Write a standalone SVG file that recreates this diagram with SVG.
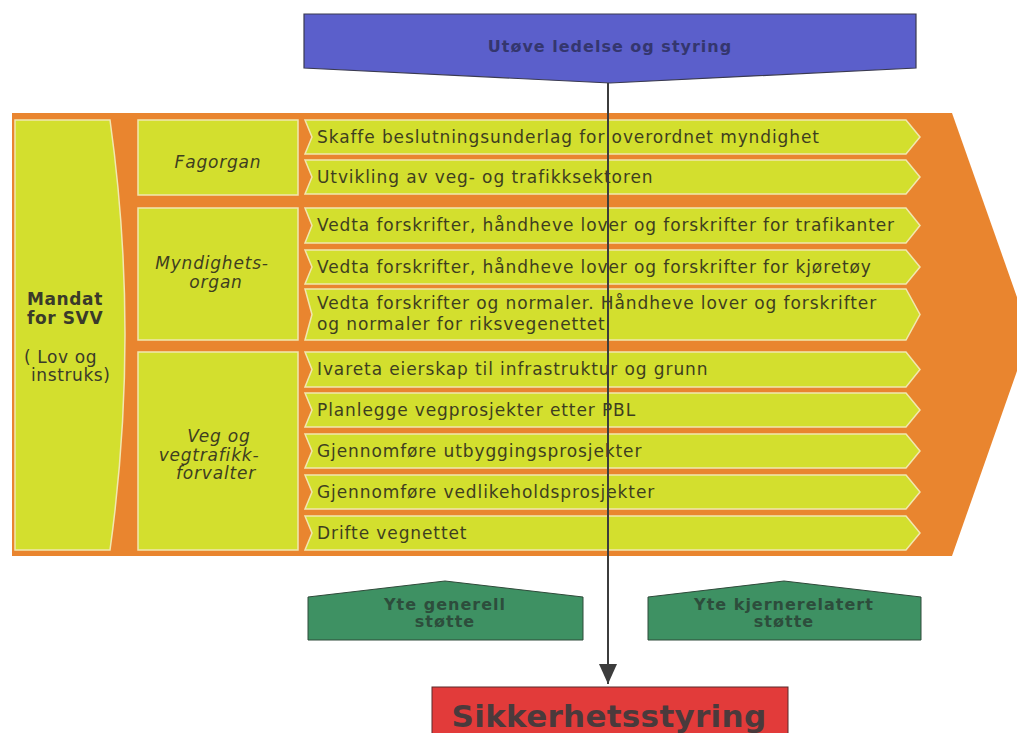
<svg xmlns="http://www.w3.org/2000/svg" width="1017" height="733" viewBox="0 0 1017 733">
<defs>
<style>
.bg{fill:#ffffff}
.orange{fill:#e9852f}
.lg{fill:#d3df2e;stroke:#f1e7b0;stroke-width:1.5}
.row{font-family:"DejaVu Sans",Verdana,sans-serif;font-size:17px;letter-spacing:0.9px;fill:#3e3e20}
.cat{font-family:"DejaVu Sans",Verdana,sans-serif;font-size:17px;letter-spacing:0.8px;font-style:italic;fill:#3e3e20;text-anchor:middle}
.mand{font-family:"DejaVu Sans",Verdana,sans-serif;font-size:17px;letter-spacing:0.6px;fill:#3a3a2a}
.boldc{font-family:"DejaVu Sans",Verdana,sans-serif;font-weight:bold;text-anchor:middle}
.conn{stroke:#3c3c3c;stroke-width:2;fill:none}
</style>
<marker id="ah" viewBox="0 0 20 18" refX="20" refY="9" markerWidth="20" markerHeight="18" markerUnits="userSpaceOnUse" orient="auto">
<path d="M0,0 L20,9 L0,18 Z" fill="#3c3c3c"/>
</marker>
</defs>
<rect class="bg" x="0" y="0" width="1017" height="733"/>

<g id="frame">
<polygon class="orange" points="12,113 952,113 1030,334 952,556 12,556"/>
</g>

<g id="mandat">
<path class="lg" d="M15,120 L110,120 Q140,334 110,550 L15,550 Z"/>
<text class="mand" font-weight="bold" x="27" y="305">Mandat</text>
<text class="mand" font-weight="bold" x="27" y="324">for SVV</text>
<text class="mand" x="24" y="363">( Lov og</text>
<text class="mand" x="31" y="381">instruks)</text>
</g>

<g id="fagorgan">
<rect class="lg" x="138" y="120" width="160" height="75"/>
<text class="cat" x="218" y="168">Fagorgan</text>
</g>
<g id="myndighetsorgan">
<rect class="lg" x="138" y="208" width="160" height="132"/>
<text class="cat" x="212" y="269">Myndighets-</text>
<text class="cat" x="216" y="288">organ</text>
</g>
<g id="vegforvalter">
<rect class="lg" x="138" y="352" width="160" height="198"/>
<text class="cat" x="219" y="442">Veg og</text>
<text class="cat" x="209" y="461">vegtrafikk-</text>
<text class="cat" x="216" y="479">forvalter</text>
</g>

<g id="row1"><path class="lg" d="M305,120 L906,120 L920,137 L906,154 L305,154 L312,137 Z"/><text class="row" x="317" y="143">Skaffe beslutningsunderlag for overordnet myndighet</text></g>
<g id="row2"><path class="lg" d="M305,160 L906,160 L920,177 L906,194 L305,194 L312,177 Z"/><text class="row" x="317" y="183">Utvikling av veg- og trafikksektoren</text></g>
<g id="row3"><path class="lg" d="M305,208 L906,208 L920,225.5 L906,243 L305,243 L312,225.5 Z"/><text class="row" x="317" y="231">Vedta forskrifter, håndheve lover og forskrifter for trafikanter</text></g>
<g id="row4"><path class="lg" d="M305,250 L906,250 L920,267 L906,284 L305,284 L312,267 Z"/><text class="row" x="317" y="273">Vedta forskrifter, håndheve lover og forskrifter for kjøretøy</text></g>
<g id="row5"><path class="lg" d="M305,289 L906,289 L920,314.5 L906,340 L305,340 L312,314.5 Z"/><text class="row" x="317" y="309">Vedta forskrifter og normaler. Håndheve lover og forskrifter</text><text class="row" x="317" y="330">og normaler for riksvegenettet</text></g>
<g id="row6"><path class="lg" d="M305,352 L906,352 L920,369.5 L906,387 L305,387 L312,369.5 Z"/><text class="row" x="317" y="375">Ivareta eierskap til infrastruktur og grunn</text></g>
<g id="row7"><path class="lg" d="M305,393 L906,393 L920,410 L906,427 L305,427 L312,410 Z"/><text class="row" x="317" y="416">Planlegge vegprosjekter etter PBL</text></g>
<g id="row8"><path class="lg" d="M305,434 L906,434 L920,451 L906,468 L305,468 L312,451 Z"/><text class="row" x="317" y="457">Gjennomføre utbyggingsprosjekter</text></g>
<g id="row9"><path class="lg" d="M305,475 L906,475 L920,492 L906,509 L305,509 L312,492 Z"/><text class="row" x="317" y="498">Gjennomføre vedlikeholdsprosjekter</text></g>
<g id="row10"><path class="lg" d="M305,516 L906,516 L920,533 L906,550 L305,550 L312,533 Z"/><text class="row" x="317" y="539">Drifte vegnettet</text></g>

<g id="ledelse">
<polygon points="304,14 916,14 916,68 610,83 304,68" fill="#5b5fcb" stroke="#3a3a50" stroke-width="1.2"/>
<text class="boldc" x="610" y="52" font-size="16" letter-spacing="1" fill="#34366e">Utøve ledelse og styring</text>
</g>

<g id="generell">
<polygon points="308,597 445,581 583,597 583,640 308,640" fill="#3e9163" stroke="#2f4a3a" stroke-width="1"/>
<text class="boldc" x="445" y="610" font-size="16" letter-spacing="1" fill="#2d4d3c">Yte generell</text>
<text class="boldc" x="445" y="627" font-size="16" letter-spacing="1" fill="#2d4d3c">støtte</text>
</g>
<g id="kjerne">
<polygon points="648,597 784,581 921,597 921,640 648,640" fill="#3e9163" stroke="#2f4a3a" stroke-width="1"/>
<text class="boldc" x="784" y="610" font-size="16" letter-spacing="1" fill="#2d4d3c">Yte kjernerelatert</text>
<text class="boldc" x="784" y="627" font-size="16" letter-spacing="1" fill="#2d4d3c">støtte</text>
</g>

<g id="sikkerhet">
<rect x="432" y="687" width="356" height="50" fill="#e23b3a" stroke="#5a2a2a" stroke-width="1"/>
<text class="boldc" x="609" y="727" font-size="31" letter-spacing="0.3" fill="#4a3a3c">Sikkerhetsstyring</text>
</g>

<g id="connectors">
<line class="conn" x1="608" y1="83" x2="608" y2="684" marker-end="url(#ah)"/>
</g>
</svg>
